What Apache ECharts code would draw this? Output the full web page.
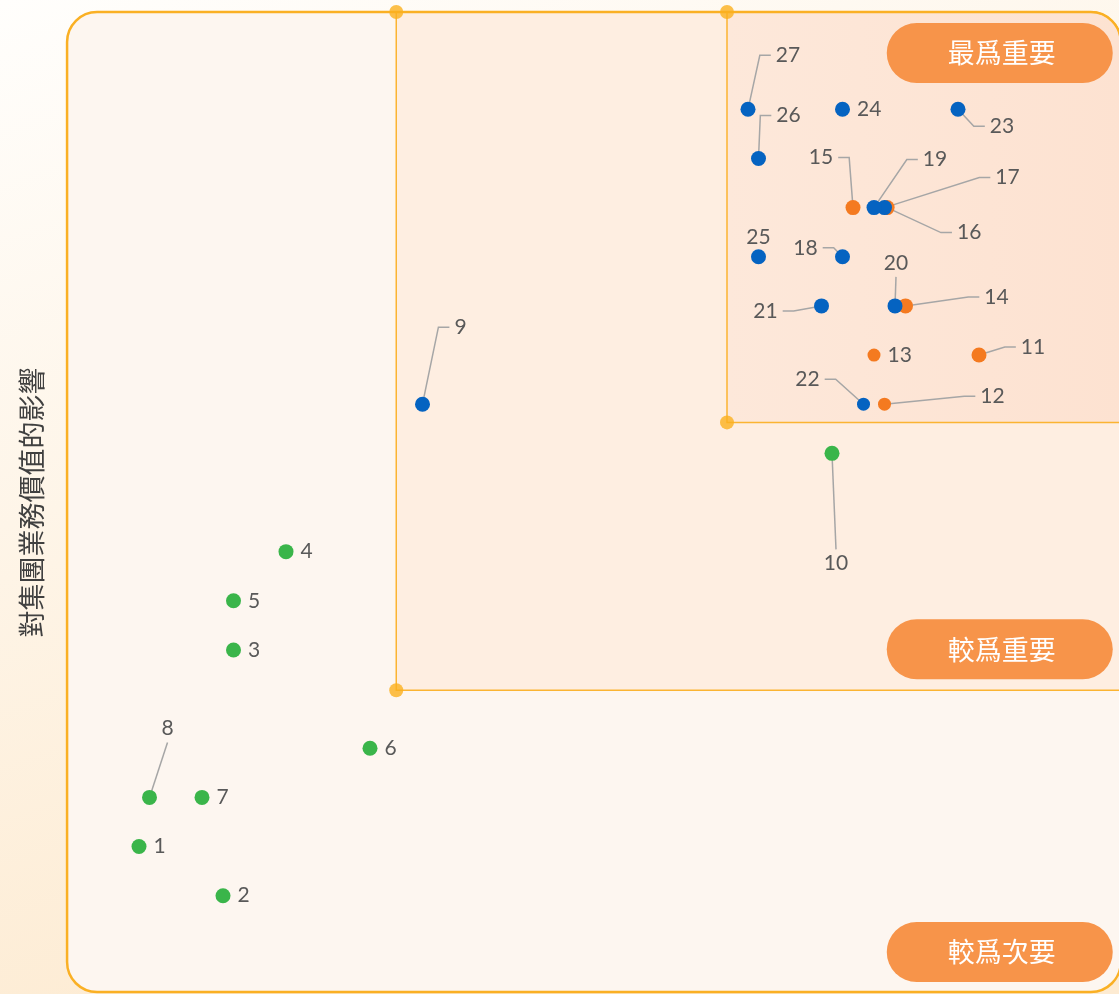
<!DOCTYPE html>
<html><head><meta charset="utf-8">
<script src="https://cdn.jsdelivr.net/npm/echarts@6/dist/echarts.min.js"></script>
<style>html,body{margin:0;padding:0;background:#fff}#c{width:1119px;height:994px}</style>
</head><body><div id="c"></div>
<script>
// ---- data ----
const greenNames = ['1','2','3','4','5','6','7','8','10'];
const greenX = [3.00,3.16,3.18,3.28,3.18,3.44,3.12,3.02,4.32];
const greenY = [3.10,3.00,3.50,3.70,3.60,3.30,3.20,3.20,3.90];
const orangeNames = ['11','12','13','14','15','16'];
const orangeX = [4.60,4.42,4.40,4.46,4.36,4.425];
const orangeY = [4.10,4.00,4.10,4.20,4.40,4.40];
const blueNames = ['9','17','18','19','20','21','22','23','24','25','26','27'];
const blueX = [3.54,4.42,4.34,4.40,4.44,4.30,4.38,4.56,4.34,4.18,4.18,4.16];
const blueY = [4.00,4.40,4.30,4.40,4.20,4.20,4.00,4.60,4.60,4.30,4.50,4.60];
const xThresholds = [3.49, 4.12];
const yThresholds = [3.418, 3.963];
const frameX = [2.863, 4.87];
const frameY = [2.804, 4.798];
const zoneLabels = ['最爲重要','較爲重要','較爲次要'];
const yAxisTitle = '對集團業務價值的影響';

// ---- label styling (pixel offsets of label centre from the point, leader side) ----
const labelOffsets = {
  '8':[18,-69],'10':[4,110],'9':[38,-77],'18':[-37,-9],'19':[61,-48],'17':[123,-30],
  '16':[82,25],'15':[-32,-50],'14':[91,-9],'20':[1,-43],'21':[-56,5],'22':[-56,-25],
  '12':[108,-8],'11':[54,-8],'23':[44,17],'26':[30,-43],'27':[40,-54],'25':[0,-20]
};
const leaderSide = {'8':'B','10':'T','9':'L','18':'R','19':'L','17':'L','16':'L','15':'R','14':'L',
  '20':'B','21':'R','22':'R','12':'L','11':'L','23':'L','26':'L','27':'L'};
const smallPts = {'12':true,'13':true,'22':true};
const LABEL_FONT = 21, LABEL_FAMILY = 'Lato';

const chart = echarts.init(document.getElementById('c'));

function makeData(names, xs, ys){
  return names.map((n,i)=>{
    const item = {name:n, value:[xs[i], ys[i]]};
    if (smallPts[n]) item.symbolSize = 13;
    return item;
  });
}
function layoutFn(names){
  return function(p){
    const o = labelOffsets[names[p.dataIndex]];
    if (!o) return {};
    const cx = p.rect.x + p.rect.width/2, cy = p.rect.y + p.rect.height/2;
    return {x: cx + o[0], y: cy + o[1], align:'center', verticalAlign:'middle'};
  };
}
function scatter(name, names, xs, ys, color){
  return {
    name, type:'scatter', z:10, symbolSize:15, silent:true,
    itemStyle:{color, opacity:1},
    data: makeData(names, xs, ys),
    label:{show:true, position:'right', distance:7, formatter:'{b}',
      fontSize:LABEL_FONT, color:'#595959', fontFamily:LABEL_FAMILY},
    labelLayout: layoutFn(names)
  };
}

const cornerData = [
  [xThresholds[0], frameY[1]], [xThresholds[1], frameY[1]], [xThresholds[1], yThresholds[1]],
  [xThresholds[0], yThresholds[0]], [frameX[1], yThresholds[1]], [frameX[1], yThresholds[0]]
];

chart.setOption({
  backgroundColor:{type:'linear',x:0,y:0,x2:0.3,y2:1,colorStops:[{offset:0,color:'#FFFEFC'},{offset:1,color:'#FDEBD2'}]},
  animation:false,
  grid:{left:34, right:35, top:11, bottom:-1},
  xAxis:{type:'value', min:2.8, max:4.8, show:false},
  yAxis:{type:'value', min:2.8, max:4.8,
    axisLine:{show:false}, axisTick:{show:false}, axisLabel:{show:false}, splitLine:{show:false},
    name: yAxisTitle, nameLocation:'middle', nameRotate:90, nameGap:-11,
    nameTextStyle:{fontSize:27, color:'#404040', fontFamily:'Noto Sans CJK TC'}},
  series:[
    {type:'scatter', z:9, silent:true, symbolSize:14, itemStyle:{color:'#FBB01E'}, data:cornerData, label:{show:false}},
    scatter('green', greenNames, greenX, greenY, '#3AB54A'),
    scatter('orange', orangeNames, orangeX, orangeY, '#F47A20'),
    scatter('blue', blueNames, blueX, blueY, '#0563C1')
  ]
});

const P = (x,y)=>chart.convertToPixel({gridIndex:0},[x,y]);
const [L,T] = P(frameX[0], frameY[1]);
const [R,B] = P(frameX[1], frameY[0]);
const mx = P(xThresholds[0], 3)[0], ix = P(xThresholds[1], 3)[0];
const my = P(3, yThresholds[0])[1], iy = P(3, yThresholds[1])[1];
const pillW = 226, pillH = 60, pillR = R - 8;
const pillTops = [T + 11, my - 11 - pillH, B - 10 - pillH];
const pills = zoneLabels.map((t,i)=>({
  type:'group', z:6, children:[
    {type:'rect', z:6, shape:{x:pillR-pillW, y:pillTops[i], width:pillW, height:pillH, r:30}, style:{fill:'#F7944A'}},
    {type:'text', z:7, x:pillR-pillW/2+2, y:pillTops[i]+pillH/2,
      style:{text:t, fill:'#FFFFFF', fontSize:27, fontFamily:'Noto Sans CJK TC', textAlign:'center', textVerticalAlign:'middle'}}
  ]
}));

// leader lines from each moved label to its point
const mctx = document.createElement('canvas').getContext('2d');
mctx.font = LABEL_FONT + 'px ' + LABEL_FAMILY;
const leaderEls = [];
function addLeaders(names, xs, ys){
  names.forEach((n,i)=>{
    const side = leaderSide[n]; if (!side) return;
    const [px,py] = P(xs[i], ys[i]);
    const o = labelOffsets[n];
    const lx = px + o[0], ly = py + o[1];
    const hw = mctx.measureText(n).width/2, hh = 11;
    let a, b;
    if (side === 'L'){ a = [lx-hw-5, ly]; b = [a[0]-11, ly]; }
    else if (side === 'R'){ a = [lx+hw+5, ly]; b = [a[0]+11, ly]; }
    else if (side === 'B'){ a = [lx, ly+hh+3]; b = a; }
    else { a = [lx, ly-hh-3]; b = a; }
    leaderEls.push({type:'polyline', z:5, silent:true,
      shape:{points:[a, b, [px, py]]},
      style:{stroke:'#A6A6A6', lineWidth:1.5, fill:null}});
  });
}
addLeaders(greenNames, greenX, greenY);
addLeaders(orangeNames, orangeX, orangeY);
addLeaders(blueNames, blueX, blueY);

chart.setOption({
  graphic:[
    {type:'rect', z:1, shape:{x:L,y:T,width:R-L,height:B-T,r:30}, style:{fill:'#FDF6F0'}},
    {type:'rect', z:2, shape:{x:mx,y:T,width:R-mx,height:my-T,r:[0,30,0,0]},
      style:{fill:'#FEEEE1', stroke:'#FBB432', lineWidth:1.5}},
    {type:'rect', z:3, shape:{x:ix,y:T,width:R-ix,height:iy-T,r:[0,30,0,0]},
      style:{fill:{type:'linear',x:0,y:0,x2:1,y2:0,colorStops:[{offset:0,color:'#FDE8DA'},{offset:1,color:'#FDE2D1'}]},
        stroke:'#FBB432', lineWidth:1.5}},
    {type:'rect', z:4, shape:{x:L,y:T,width:R-L,height:B-T,r:30}, style:{fill:'none', stroke:'#FAB024', lineWidth:2.5}},
    ...leaderEls,
    ...pills
  ]
});
</script></body></html>
